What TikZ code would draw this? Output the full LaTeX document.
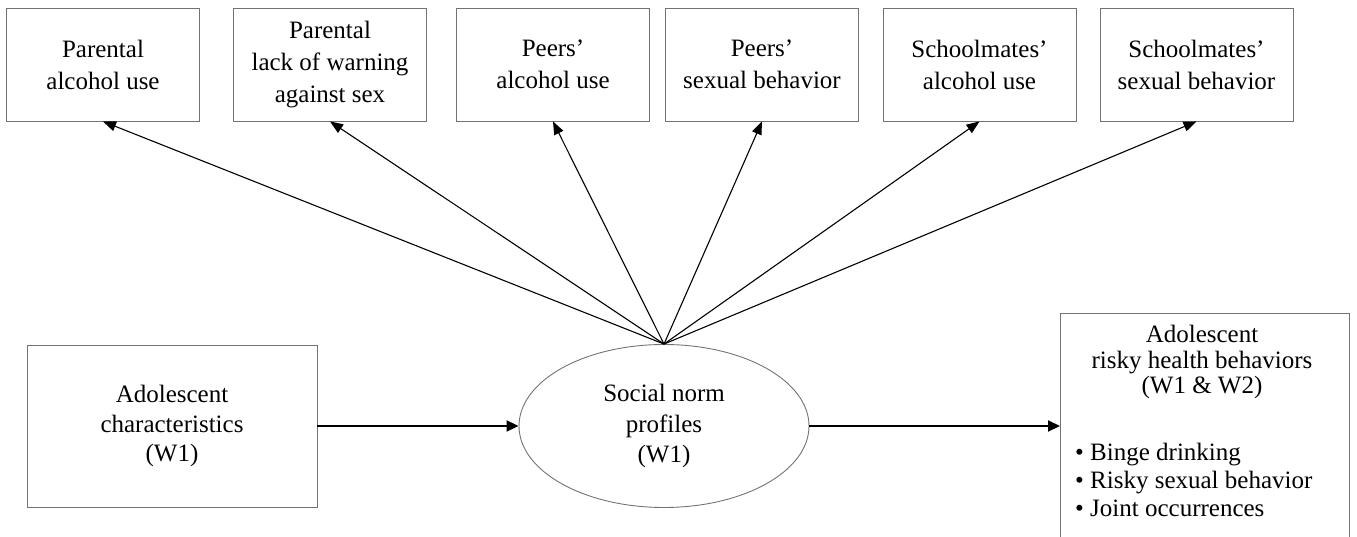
\documentclass[tikz,border=0pt]{standalone}
\usepackage{fontspec}
\setmainfont{Liberation Serif}
\usetikzlibrary{arrows.meta,shapes.geometric}
\begin{document}
\begin{tikzpicture}[x=1pt,y=-1pt,
  boxline/.style={draw=black!55, line width=0.9pt},
  topbox/.style={boxline, minimum width=193pt, minimum height=113pt, inner sep=0pt, align=center, font=\fontsize{25}{32}\selectfont},
  thinarrow/.style={line width=1.1pt, -{Triangle[length=13pt,width=10pt]}},
  thickarrow/.style={line width=2pt, -{Triangle[length=12pt,width=11pt]}},
  txt/.style={align=center, inner sep=0pt}]
\useasboundingbox (0,0) rectangle (1357,537);
% top boxes
\node[topbox] (b1) at (103,64.5) {Parental\\alcohol use};
\node[topbox] (b2) at (330,64.5) {Parental\\lack of warning\\against sex};
\node[topbox] (b3) at (553,64.5) {Peers'\\alcohol use};
\node[topbox] (b4) at (762,64.5) {Peers'\\sexual behavior};
\node[topbox] (b5) at (979.5,64.5) {Schoolmates'\\alcohol use};
\node[topbox] (b6) at (1196.5,64.5) {Schoolmates'\\sexual behavior};
% left box
\node[boxline, minimum width=290pt, minimum height=162pt, inner sep=0pt, align=center,
      font=\fontsize{25}{29.5}\selectfont] (adol) at (172,426) {Adolescent\\characteristics\\(W1)};
% ellipse
\node[boxline, ellipse, minimum width=290pt, minimum height=163pt, inner sep=0pt, align=center,
      font=\fontsize{25}{30.5}\selectfont] (snp) at (664,426) {Social norm\\profiles\\(W1)};
% right box (runs past the lower edge)
\node[boxline, minimum width=289pt, minimum height=260pt, inner sep=0pt, anchor=north west] (out) at (1060,313) {};
\node[txt, font=\fontsize{25}{25.5}\selectfont] (outhead) at (1202,362) {Adolescent\\risky health behaviors\\(W1 \& W2)};
\node[txt, align=left, anchor=west, font=\fontsize{25}{28}\selectfont] (outlist) at (1075,480)
  {\textbullet\ Binge drinking\\\textbullet\ Risky sexual behavior\\\textbullet\ Joint occurrences};
% connectors
\foreach \b in {b1,b2,b3,b4,b5,b6}
  \draw[thinarrow] (snp.north) -- (\b.south);
\draw[thickarrow] (adol.east) -- (snp.west);
\draw[thickarrow] (snp.east) -- (snp.east -| out.west);
\end{tikzpicture}
\end{document}
